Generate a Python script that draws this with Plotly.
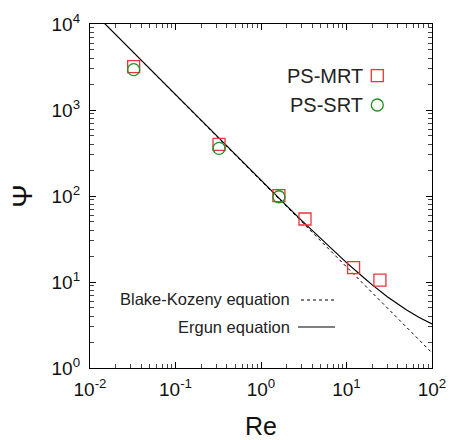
import plotly.graph_objects as go

# ---- data ----
re_mrt = [0.0324, 0.323, 1.62, 3.27, 12.1, 24.6]
psi_mrt = [3200, 399, 101, 54, 14.7, 10.5]

re_srt = [0.0324, 0.323, 1.62]
psi_srt = [2950, 358, 98]

re_ergun = [0.01, 0.1, 1, 2, 3, 5, 7, 10, 15, 20, 30, 50, 70, 100]
psi_ergun = [15000, 1502, 151.8, 76.8, 51.8, 31.8, 23.2, 16.8, 11.8, 9.25, 6.75, 4.75, 3.89, 3.25]

re_bk = [0.01, 100]
psi_bk = [15000, 1.5]

x_tickvals = [0.01, 0.1, 1, 10, 100]
x_ticktext = ["10<sup>-2</sup>", "10<sup>-1</sup>", "10<sup>0</sup>", "10<sup>1</sup>", "10<sup>2</sup>"]
y_tickvals = [1, 10, 100, 1000, 10000]
y_ticktext = ["10<sup>0</sup>", "10<sup>1</sup>", "10<sup>2</sup>", "10<sup>3</sup>", "10<sup>4</sup>"]

RED = "#ee3338"
GREEN = "#1f911f"
FONT = "Liberation Sans, Arial, sans-serif"

fig = go.Figure()
fig.add_trace(go.Scatter(x=re_bk, y=psi_bk, mode="lines",
                         line=dict(color="black", width=1, dash="3px,3px"), showlegend=False))
fig.add_trace(go.Scatter(x=re_ergun, y=psi_ergun, mode="lines",
                         line=dict(color="black", width=1.2), showlegend=False))
fig.add_trace(go.Scatter(x=re_mrt, y=psi_mrt, mode="markers",
                         marker=dict(symbol="square-open", size=12, color=RED, line=dict(width=1.3)),
                         showlegend=False))
fig.add_trace(go.Scatter(x=re_srt, y=psi_srt, mode="markers",
                         marker=dict(symbol="circle-open", size=12, color=GREEN, line=dict(width=1.3)),
                         showlegend=False))

L, R, T, B = 90, 432, 24, 368
W, H = 451, 440


def px(x):
    return (x - L) / (R - L)


def py(y):
    return (B - y) / (B - T)


axis_common = dict(
    type="log", showgrid=False, zeroline=False, automargin=False,
    showline=True, linecolor="black", linewidth=1.3, mirror="allticks",
    ticks="inside", ticklen=6, tickwidth=1, tickcolor="black",
    minor=dict(ticks="inside", ticklen=3.5, tickwidth=0.8, tickcolor="#444", dtick="D1", showgrid=False),
    tickfont=dict(family=FONT, size=19, color="#111"),
)

fig.update_xaxes(range=[-2, 2], tickmode="array", tickvals=x_tickvals, ticktext=x_ticktext,
                 ticklabelstandoff=4,
                 title=dict(text="Re", font=dict(family=FONT, size=25, color="#111"), standoff=19),
                 **axis_common)
fig.update_yaxes(range=[0, 4], tickmode="array", tickvals=y_tickvals, ticktext=y_ticktext,
                 ticklabelstandoff=5,
                 title=dict(text="Ψ", font=dict(family=FONT, size=28, color="#111"), standoff=10),
                 **axis_common)

annos = [
    dict(text="PS-MRT", x=px(365), y=py(75.7), size=20),
    dict(text="PS-SRT", x=px(365), y=py(105), size=20),
    dict(text="Blake-Kozeny equation", x=px(292), y=py(299), size=16.5),
    dict(text="Ergun equation", x=px(292), y=py(326.5), size=16.5),
]
for a in annos:
    fig.add_annotation(text=a["text"], x=a["x"], y=a["y"], xref="paper", yref="paper",
                       xanchor="right", yanchor="middle", showarrow=False,
                       font=dict(family=FONT, size=a["size"], color="#222"))

fig.add_shape(type="rect", xref="paper", yref="paper", xsizemode="pixel", ysizemode="pixel",
              xanchor=px(377.3), yanchor=py(75.7), x0=-6, x1=6, y0=-6, y1=6,
              line=dict(color=RED, width=1.3))
fig.add_shape(type="circle", xref="paper", yref="paper", xsizemode="pixel", ysizemode="pixel",
              xanchor=px(377.3), yanchor=py(105), x0=-6, x1=6, y0=-6, y1=6,
              line=dict(color=GREEN, width=1.3))
fig.add_shape(type="line", xref="paper", yref="paper", x0=px(301), x1=px(335), y0=py(300), y1=py(300),
              line=dict(color="black", width=1, dash="3px,3px"))
fig.add_shape(type="line", xref="paper", yref="paper", x0=px(298), x1=px(335), y0=py(327), y1=py(327),
              line=dict(color="black", width=1.2))

fig.update_layout(
    width=W, height=H,
    margin=dict(l=L, r=W - R, t=T, b=H - B),
    plot_bgcolor="white", paper_bgcolor="white",
    font=dict(family=FONT),
)

fig.write_html("out.html", config={"displayModeBar": False},
               post_script="document.body.style.margin='0';document.body.style.padding='0';")
